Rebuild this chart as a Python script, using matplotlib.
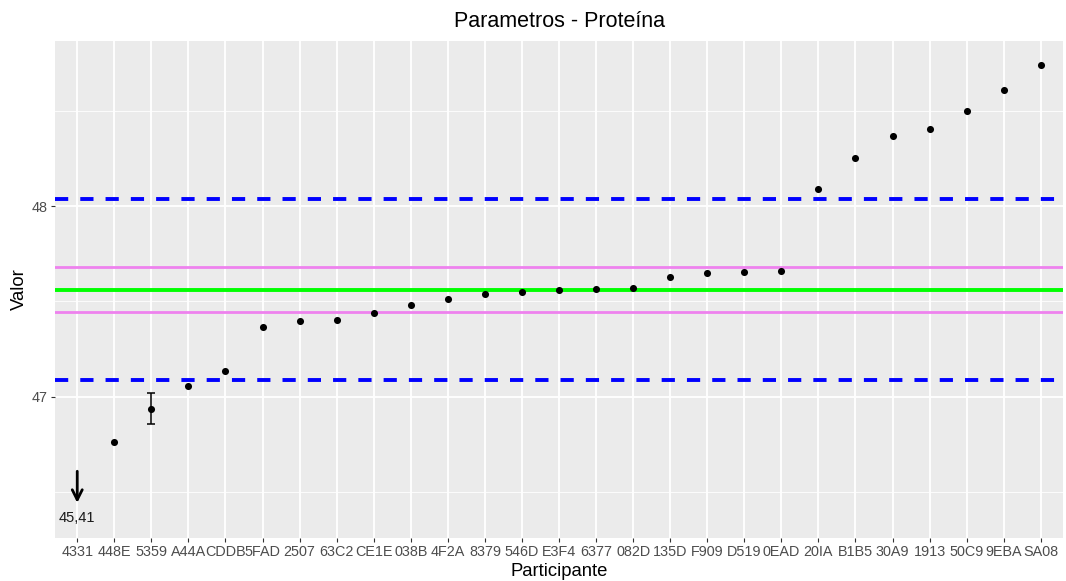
import numpy as np
import matplotlib.pyplot as plt
from matplotlib.ticker import MultipleLocator

plt.rcParams['font.family'] = ['Liberation Sans', 'DejaVu Sans']

participantes = ['4331', '448E', '5359', 'A44A', 'CDDB', '5FAD', '2507', '63C2', 'CE1E',
                 '038B', '4F2A', '8379', '546D', 'E3F4', '6377', '082D', '135D', 'F909',
                 'D519', '0EAD', '20IA', 'B1B5', '30A9', '1913', '50C9', '9EBA', 'SA08']
valores = [45.41, 46.762, 46.937, 47.056, 47.135, 47.364, 47.399, 47.403, 47.438,
           47.480, 47.511, 47.539, 47.551, 47.560, 47.564, 47.571, 47.628, 47.649,
           47.654, 47.661, 48.092, 48.255, 48.370, 48.405, 48.500, 48.612, 48.741]
incertezas = [0, 0, 0.08, 0, 0, 0, 0, 0, 0, 0, 0, 0, 0, 0, 0, 0, 0, 0,
              0, 0, 0, 0, 0, 0, 0, 0, 0]

valor_ref = 47.562
u_ref = 0.117
limite = 0.474

y_min, y_max = 46.258, 48.869

fig = plt.figure(figsize=(10.66, 5.81), dpi=100)
ax = fig.add_axes([0.0516, 0.074, 0.9456, 0.856])
ax.set_facecolor('#EBEBEB')
for s in ax.spines.values():
    s.set_visible(False)

x = np.arange(len(participantes))
ax.set_xlim(-0.6, len(participantes) - 0.4)
ax.set_ylim(y_min, y_max)
ax.yaxis.set_major_locator(MultipleLocator(1))
ax.yaxis.set_minor_locator(MultipleLocator(0.5))
ax.set_xticks(x)
ax.set_xticklabels(participantes)
ax.grid(which='major', color='white', linewidth=1.3)
ax.grid(which='minor', axis='y', color='white', linewidth=0.6)
ax.set_axisbelow(True)
ax.tick_params(which='major', length=3, color='#333333', labelcolor='#4D4D4D', labelsize=10.4, pad=2)
ax.tick_params(which='minor', length=0)

ax.axhline(valor_ref, color='#00FF00', linewidth=2.8)
ax.axhline(valor_ref + u_ref, color='#EE82EE', linewidth=2)
ax.axhline(valor_ref - u_ref, color='#EE82EE', linewidth=2)
ax.axhline(valor_ref + limite, color='#0000FF', linewidth=2.8, linestyle=(0, (3.4, 3.1)))
ax.axhline(valor_ref - limite, color='#0000FF', linewidth=2.8, linestyle=(0, (3.4, 3.1)))

dentro = np.array(valores) > y_min
xs = x[dentro]
vs = np.array(valores)[dentro]
us = np.array(incertezas)[dentro]
ax.errorbar(xs[us > 0], vs[us > 0], yerr=us[us > 0], fmt='none', ecolor='black',
            elinewidth=1.1, capsize=2.6, capthick=1.1, zorder=3)
ax.scatter(xs, vs, s=26, color='black', zorder=4, linewidths=0)

# participante fora da escala
for i in x[~dentro]:
    ax.annotate('', xy=(i, y_min + 0.17), xytext=(i, y_min + 0.365),
                arrowprops=dict(arrowstyle='->', color='black', lw=2, mutation_scale=18))
    ax.text(i, y_min + 0.105, f'{valores[i]:.2f}'.replace('.', ','), ha='center', va='center',
            fontsize=10.5, color='#1A1A1A')

ax.set_title('Parametros - Proteína', fontsize=15.5, pad=10)
ax.set_xlabel('Participante', fontsize=13.3, labelpad=3)
ax.set_ylabel('Valor', fontsize=13.3, labelpad=3)

fig.savefig('out.png', dpi=100)
